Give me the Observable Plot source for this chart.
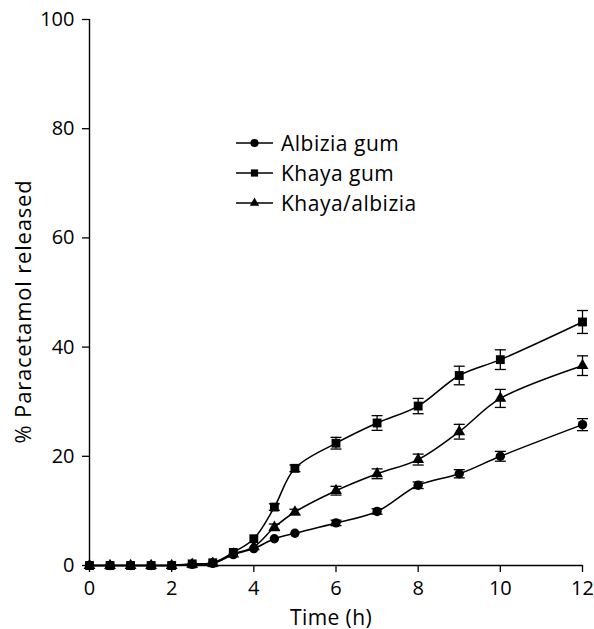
<!DOCTYPE html>
<html><head><meta charset="utf-8">
<script src="https://cdn.jsdelivr.net/npm/d3@7"></script>
<script src="https://cdn.jsdelivr.net/npm/@observablehq/plot@0.6"></script>
<style>
body{margin:0;background:#fff;}
#chart{position:relative;width:594px;height:629px;font-family:"Open Sans",sans-serif;}
#legend{position:absolute;left:236px;top:128px;font-size:21px;letter-spacing:0.5px;color:#000;font-family:"Open Sans",sans-serif;}
.row{display:flex;align-items:center;height:30px;white-space:nowrap;}
.row svg{margin-right:7px;display:block;}
</style></head><body><div id="chart"></div>
<script>
const times = [0,0.5,1,1.5,2,2.5,3,3.5,4,4.5,5,6,7,8,9,10,12];
const albizia   = [0,0,0,0,0,0.2,0.4,2.0,3.1,4.9,5.9,7.8,9.9,14.7,16.8,20.0,25.8];
const albiziaSD = [0,0,0,0,0,0,0.1,0.2,0.3,0.3,0.3,0.5,0.5,0.6,0.75,0.9,1.1];
const khaya     = [0,0,0,0,0,0.3,0.5,2.4,4.9,10.7,17.8,22.4,26.1,29.2,34.8,37.7,44.6];
const khayaSD   = [0,0,0,0,0,0.1,0.2,0.3,0.4,0.6,0.6,1.07,1.35,1.4,1.7,1.8,2.1];
const mix       = [0,0,0,0,0,0.2,0.4,2.1,3.4,7.0,9.8,13.7,16.8,19.4,24.5,30.6,36.6];
const mixSD     = [0,0,0,0,0,0.1,0.1,0.2,0.3,0.6,0.5,0.8,0.9,1.0,1.35,1.65,1.8];
const seriesNames = ["Albizia gum","Khaya gum","Khaya/albizia"];
const seriesSymbols = ["circle","square","triangle"];
const xTicks = [0,2,4,6,8,10,12];
const yTicks = [0,20,40,60,80,100];
const xLabel = "Time (h)";
const yLabel = "% Paracetamol released";

const values = [albizia, khaya, mix];
const sds = [albiziaSD, khayaSD, mixSD];
const data = [];
seriesNames.forEach((s, i) => times.forEach((t, j) => data.push({series: s, t, y: values[i][j], sd: sds[i][j]})));
const bars = data.filter(d => d.sd >= 0.5);

const capSymbol = {draw(ctx, size) { const w = Math.sqrt(size / Math.PI); ctx.moveTo(-w, 0); ctx.lineTo(w, 0); }};
const markerR = {"Albizia gum": 4.7, "Khaya gum": 5.0, "Khaya/albizia": 4.4};

const chart = Plot.plot({
  width: 594, height: 629,
  marginLeft: 89, marginTop: 19, marginRight: 12, marginBottom: 64,
  style: {fontFamily: "Open Sans, sans-serif", fontSize: "20px", color: "black", background: "white"},
  x: {domain: [0, 12]},
  y: {domain: [0, 100]},
  marks: [
    Plot.axisX({ticks: xTicks, tickSize: 7, tickPadding: 8, label: null, fontSize: 20, strokeWidth: 1.3}),
    Plot.axisY({ticks: yTicks, tickSize: 7, tickPadding: 8, label: null, fontSize: 20, strokeWidth: 1.3}),
    Plot.ruleX([0], {stroke: "black", strokeWidth: 1.4}),
    Plot.ruleY([0], {stroke: "black", strokeWidth: 1.4}),
    Plot.line(data, {x: "t", y: "y", z: "series", curve: "catmull-rom", stroke: "black", strokeWidth: 1.5}),
    Plot.ruleX(bars, {x: "t", y1: d => d.y - d.sd, y2: d => d.y + d.sd, stroke: "black", strokeWidth: 1.3}),
    Plot.dot(bars, {x: "t", y: d => d.y + d.sd, symbol: capSymbol, r: 5.5, stroke: "black", fill: "none", strokeWidth: 1.3}),
    Plot.dot(bars, {x: "t", y: d => d.y - d.sd, symbol: capSymbol, r: 5.5, stroke: "black", fill: "none", strokeWidth: 1.3}),
    ...seriesNames.map((s, i) => Plot.dot(data.filter(d => d.series === s), {x: "t", y: "y", symbol: seriesSymbols[i], r: markerR[s], fill: "black", stroke: "none"})),
    Plot.text([xLabel], {frameAnchor: "bottom", lineAnchor: "bottom", dy: 59, dx: -5, fontSize: 21, fill: "black", style: {letterSpacing: "0.4px"}}),
    Plot.text([yLabel], {frameAnchor: "left", rotate: -90, lineAnchor: "bottom", textAnchor: "middle", dx: -59, dy: 19, fontSize: 22, fill: "black"})
  ]
});
const root = document.getElementById("chart");
root.appendChild(chart);
// widen axis-title letter spacing slightly to match the reference face
chart.querySelectorAll("text").forEach(t => {
  if (t.textContent === yLabel) t.setAttribute("letter-spacing", "0.8");
  if (t.textContent === xLabel) t.setAttribute("letter-spacing", "0.4");
});

const legend = document.createElement("div");
legend.id = "legend";
const ns = "http://www.w3.org/2000/svg";
seriesNames.forEach((s, i) => {
  const row = document.createElement("div");
  row.className = "row";
  const svg = document.createElementNS(ns, "svg");
  svg.setAttribute("width", 38); svg.setAttribute("height", 30);
  const line = document.createElementNS(ns, "line");
  line.setAttribute("x1", 0); line.setAttribute("x2", 37); line.setAttribute("y1", 15); line.setAttribute("y2", 15);
  line.setAttribute("stroke", "black"); line.setAttribute("stroke-width", 1.5);
  svg.appendChild(line);
  const p = document.createElementNS(ns, "path");
  const sym = {circle: d3.symbolCircle, square: d3.symbolSquare, triangle: d3.symbolTriangle}[seriesSymbols[i]];
  p.setAttribute("d", d3.symbol(sym, seriesSymbols[i] === "triangle" ? 38 : 52)());
  p.setAttribute("transform", "translate(18.5,15)");
  p.setAttribute("fill", "black");
  svg.appendChild(p);
  row.appendChild(svg);
  const label = document.createElement("span");
  label.textContent = s;
  row.appendChild(label);
  legend.appendChild(row);
});
root.appendChild(legend);
</script></body></html>
